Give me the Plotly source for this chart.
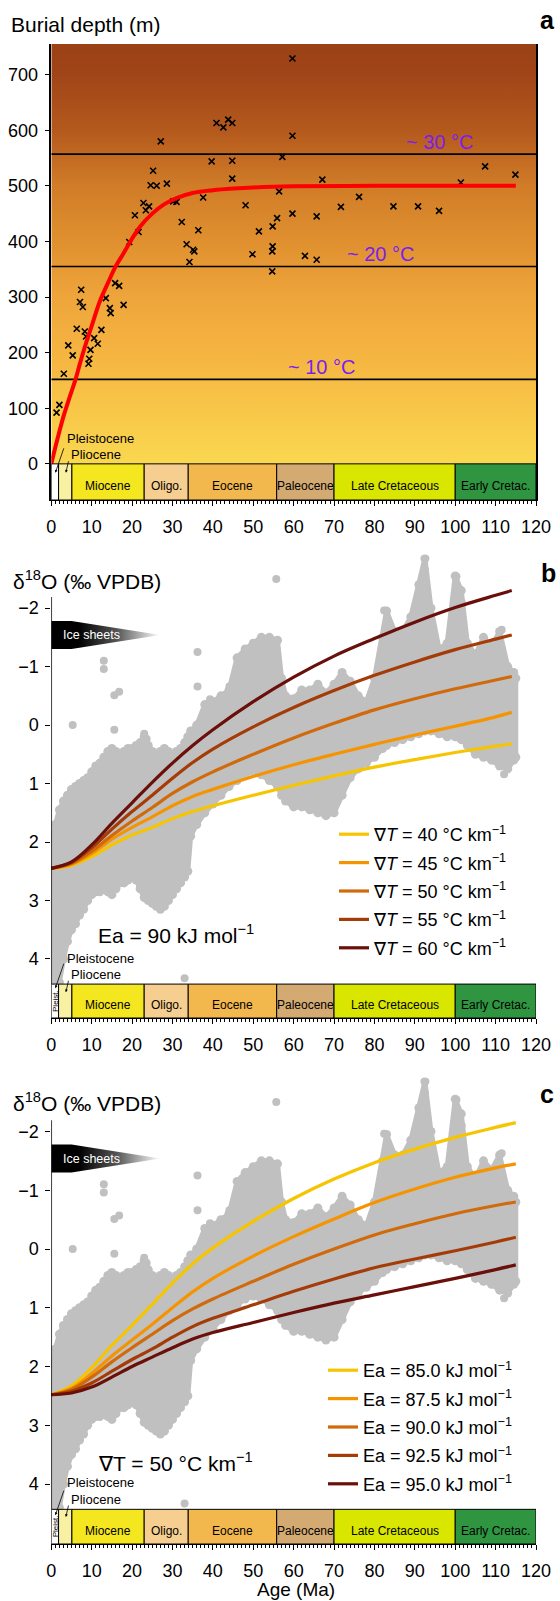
import plotly.graph_objects as go

FONT = "Liberation Sans, Arial, Helvetica, sans-serif"
W, H = 560, 1601
OFF = 0   # body margin removed by the post script below

# ---------------- Panel a data ----------------
burial_age = [27.1, 40.9, 42.6, 43.8, 44.8, 39.7, 44.8, 44.8, 25.2, 24.6, 26.1, 28.6, 22.8, 24.2,
              23.4, 20.7, 21.6, 19.3, 30.2, 31.0, 37.6, 32.3, 36.4, 33.5, 35.1, 48.1, 51.4, 54.8,
              55.9, 56.4, 54.8, 59.7, 59.7, 57.2, 67.1, 101.4, 107.4, 114.9, 59.7, 65.7, 71.7,
              76.2, 84.7, 90.8, 96.0, 34.2, 35.4, 49.8, 54.7, 54.7, 7.4, 7.1, 7.8, 13.5, 15.8,
              16.8, 14.5, 14.7, 17.9, 6.3, 12.4, 8.3, 8.6, 10.6, 11.5, 4.2, 5.3, 9.7, 9.4, 9.2,
              3.1, 2.0, 1.3, 62.8, 65.7]
burial_depth = [580, 613, 605, 619, 613, 544, 545, 513, 527, 501, 500, 504, 469, 463,
                456, 447, 417, 399, 472, 471, 479, 435, 420, 395, 385, 465, 418, 427,
                442, 490, 391, 729, 590, 552, 511, 506, 535, 520, 450, 445, 462,
                480, 463, 463, 455, 363, 382, 377, 346, 382, 313, 291, 282, 298, 325,
                320, 280, 271, 286, 243, 241, 238, 229, 226, 216, 213, 195, 205, 189, 180,
                162, 106, 92, 374, 367]
model_age = [0, 1, 2, 3, 4, 5, 6, 7, 8, 9, 10, 12, 14, 16, 18, 20, 22, 25, 28, 31, 35, 40,
             45, 50, 60, 80, 100, 115]
model_depth = [0, 30, 58, 85, 108, 130, 152, 178, 203, 226, 248, 292, 325, 356, 380, 405, 427,
               450, 467, 478, 487, 492, 495, 497, 499, 500, 500, 500]
isotherm_depth = [152, 355, 557]
isotherm_label = ["~ 10 °C", "~ 20 °C", "~ 30 °C"]

# ---------------- Geological time scale ----------------
stage_name = ["", "", "Miocene", "Oligo.", "Eocene", "Paleocene", "Late Cretaceous", "Early Cretac."]
stage_start = [0, 1.8, 5.1, 23.0, 33.9, 55.8, 70.0, 100.0]
stage_end = [1.8, 5.1, 23.0, 33.9, 55.8, 70.0, 100.0, 120.0]
stage_color = ["#FFFFFF", "#F8F1A4", "#F4E61F", "#F6CE90", "#F2B84E", "#D3AA72", "#D8E600", "#2F9541"]

# ---------------- Benthic d18O compilation (envelope + isolated points) ----------------
env_age = [0.0, 1.0, 2.0, 3.0, 4.0, 5.0, 6.0, 7.0, 8.0, 9.0, 10.0, 11.0, 12.0, 13.0, 14.0, 15.0,
           16.0, 17.0, 18.0, 19.0, 20.0, 21.0, 22.0, 23.0, 24.0, 25.0, 26.0, 27.0, 28.0, 29.0,
           30.0, 31.0, 32.0, 33.0, 33.8, 34.5, 36.0, 38.0, 40.0, 42.0, 44.0, 46.0, 48.0, 50.0,
           52.0, 54.0, 56.0, 57.0, 58.0, 60.0, 62.0, 64.0, 66.0, 68.0, 70.0, 72.0, 74.0, 76.0,
           78.0, 80.0, 82.0, 83.0, 85.0, 87.0, 89.0, 91.0, 92.5, 94.0, 96.0, 98.0, 100.0, 101.5,
           103.0, 105.0, 107.0, 109.0, 111.0, 113.0, 114.5, 115.0]
env_top = [1.95, 1.7, 1.45, 1.3, 1.2, 1.1, 1.05, 1.0, 0.95, 0.9, 0.8, 0.7, 0.65, 0.55, 0.45, 0.4,
           0.45, 0.5, 0.45, 0.4, 0.4, 0.35, 0.3, 0.2, 0.35, 0.45, 0.5, 0.45, 0.4, 0.45,
           0.5, 0.45, 0.4, 0.3, 0.2, 0.1, 0.0, -0.35, -0.4, -0.5, -0.6, -1.15, -1.3, -1.4,
           -1.5, -1.5, -1.45, -0.8, -0.5, -0.45, -0.6, -0.6, -0.7, -0.55, -0.7, -0.9, -0.75, -0.5,
           -0.4, -0.8, -1.5, -1.95, -1.6, -1.6, -1.85, -2.4, -2.85, -2.0, -1.3, -1.4, -2.55, -2.3,
           -1.4, -1.2, -1.5, -1.35, -1.6, -1.0, -0.9, -0.8]
env_bottom = [4.6, 4.6, 4.4, 4.0, 3.7, 3.5, 3.4, 3.25, 3.15, 3.0, 2.9, 2.85, 2.85, 2.8, 2.85, 2.9,
              2.8, 2.7, 2.7, 2.65, 2.6, 2.65, 2.8, 2.95, 3.0, 3.05, 3.1, 3.15, 3.1, 3.0,
              2.9, 2.8, 2.7, 2.6, 2.5, 1.9, 1.7, 1.5, 1.35, 1.2, 1.05, 0.95, 0.85, 0.8,
              0.85, 0.95, 1.05, 1.2, 1.3, 1.4, 1.4, 1.45, 1.5, 1.55, 1.5, 1.2, 0.9, 0.75,
              0.65, 0.55, 0.4, 0.35, 0.3, 0.25, 0.2, 0.15, 0.1, 0.1, 0.15, 0.2, 0.2, 0.25,
              0.35, 0.5, 0.55, 0.6, 0.7, 0.75, 0.6, 0.55]
pt_age = [13.0, 13.0, 15.6, 16.8, 5.3, 15.6, 14.5, 23.0, 23.6, 35.0, 36.2, 36.2, 39.3, 44.1,
          55.7, 92.5, 92.5, 100.3, 100.3, 101.6, 82.4, 111.5, 112.1, 114.8, 33.0]
pt_d18o = [-1.1, -0.96, -0.51, -0.57, 0.0, 0.08, 0.44, 0.15, 0.24, 0.19, -1.25, -0.66, -0.44, -0.66,
           -2.5, -2.85, -2.65, -2.54, -2.37, -2.1, -1.96, -1.63, 0.84, 0.53, 4.33]

# ---------------- Model curves ----------------
curve_age_b = [0, 5, 10, 15, 20, 25, 30, 35, 40, 50, 60, 70, 80, 90, 100, 110, 114]
curves_b = {
    "40": [2.45, 2.4, 2.25, 2.05, 1.88, 1.75, 1.6, 1.48, 1.38, 1.2, 1.03, 0.87, 0.72, 0.59, 0.47, 0.36, 0.32],
    "45": [2.45, 2.38, 2.2, 1.95, 1.75, 1.57, 1.38, 1.22, 1.1, 0.88, 0.68, 0.5, 0.33, 0.17, 0.02, -0.14, -0.22],
    "50": [2.45, 2.37, 2.16, 1.89, 1.64, 1.41, 1.17, 0.97, 0.8, 0.5, 0.22, -0.03, -0.26, -0.45, -0.62, -0.77, -0.83],
    "55": [2.45, 2.35, 2.1, 1.78, 1.48, 1.2, 0.91, 0.64, 0.41, 0.03, -0.3, -0.59, -0.85, -1.08, -1.29, -1.47, -1.54],
    "60": [2.45, 2.34, 2.05, 1.68, 1.33, 0.98, 0.65, 0.35, 0.08, -0.4, -0.82, -1.18, -1.48, -1.76, -2.01, -2.22, -2.3],
}
curve_age_c = [0, 5, 10, 15, 20, 25, 30, 35, 40, 50, 60, 70, 80, 90, 100, 110, 115]
curves_c = {
    "85.0": [2.48, 2.33, 2.02, 1.64, 1.3, 0.94, 0.58, 0.25, -0.02, -0.47, -0.86, -1.19, -1.47, -1.7, -1.9, -2.07, -2.15],
    "87.5": [2.48, 2.37, 2.12, 1.82, 1.55, 1.28, 1.0, 0.73, 0.5, 0.12, -0.21, -0.51, -0.79, -1.02, -1.22, -1.38, -1.45],
    "90.0": [2.48, 2.39, 2.18, 1.92, 1.68, 1.45, 1.22, 1.02, 0.85, 0.55, 0.26, 0.0, -0.24, -0.43, -0.6, -0.74, -0.8],
    "92.5": [2.48, 2.42, 2.28, 2.08, 1.88, 1.7, 1.5, 1.32, 1.18, 0.95, 0.72, 0.51, 0.32, 0.17, 0.03, -0.12, -0.2],
    "95.0": [2.48, 2.45, 2.35, 2.18, 2.0, 1.84, 1.68, 1.53, 1.42, 1.25, 1.08, 0.92, 0.78, 0.64, 0.5, 0.35, 0.27],
}
curve_colors = ["#F6C400", "#F59400", "#D06A0B", "#A53C08", "#6A0F09"]

# ---------------- helpers (window pixels -> paper fraction) ----------------
def py(p):
    return 1 - (p - OFF) / H

def px(p):
    return (p - OFF) / W

XDOM = [px(51.3), px(536)]
GRAY = "#C0C0C0"

fig = go.Figure()

# ===== Panel a =====
fig.add_trace(go.Scatter(
    x=[0, 120, 120, 0, 0], y=[0, 0, 755, 755, 0], fill="toself", mode="lines",
    line=dict(width=0, color="rgba(0,0,0,0)"),
    fillgradient=dict(type="vertical", start=0, stop=755,
                      colorscale=[[0, "#FAD850"], [0.132, "#F8C648"], [0.265, "#F5B441"],
                                  [0.397, "#EEA53B"], [0.53, "#E0902F"], [0.662, "#D07C28"],
                                  [0.795, "#B4591D"], [0.927, "#A04518"], [1, "#9A4116"]]),
    showlegend=False, hoverinfo="skip", xaxis="x", yaxis="y"))
for d in isotherm_depth:
    fig.add_trace(go.Scatter(x=[0, 120], y=[d, d], mode="lines", line=dict(color="black", width=1.6),
                             showlegend=False, hoverinfo="skip", xaxis="x", yaxis="y"))
fig.add_trace(go.Scatter(x=burial_age, y=burial_depth, mode="markers",
                         marker=dict(symbol="x-thin", size=6, line=dict(width=1.6, color="black"), color="black"),
                         showlegend=False, xaxis="x", yaxis="y"))
fig.add_trace(go.Scatter(x=model_age, y=model_depth, mode="lines", line=dict(color="#FF0000", width=4, shape="spline"),
                         showlegend=False, xaxis="x", yaxis="y"))

# ===== Panels b and c =====
def add_d18o_panel(xa, ya, curve_age, curves, names, legend):
    fig.add_trace(go.Scatter(
        x=env_age + env_age[::-1], y=env_top + env_bottom[::-1], fill="toself", mode="lines",
        fillcolor=GRAY, line=dict(color=GRAY, width=5), showlegend=False, hoverinfo="skip",
        xaxis=xa, yaxis=ya))
    # rounded dotted edges of the compilation
    fig.add_trace(go.Scatter(x=env_age + env_age, y=env_top + env_bottom, mode="markers",
                             marker=dict(color=GRAY, size=9), showlegend=False, hoverinfo="skip",
                             xaxis=xa, yaxis=ya))
    fig.add_trace(go.Scatter(x=pt_age, y=pt_d18o, mode="markers", marker=dict(color=GRAY, size=8),
                             showlegend=False, cliponaxis=False, xaxis=xa, yaxis=ya))
    # Ice sheets arrow
    fig.add_trace(go.Scatter(
        x=[0, 5, 27, 5, 0, 0], y=[-1.78, -1.78, -1.54, -1.30, -1.30, -1.78], fill="toself", mode="lines",
        line=dict(width=0, color="rgba(0,0,0,0)"),
        fillgradient=dict(type="horizontal", start=0, stop=27,
                          colorscale=[[0, "#000000"], [0.25, "#000000"], [0.6, "#555555"], [1, "#FFFFFF"]]),
        showlegend=False, hoverinfo="skip", xaxis=xa, yaxis=ya))
    for i, ((key, vals), col, nm) in enumerate(zip(curves.items(), curve_colors, names)):
        fig.add_trace(go.Scatter(x=curve_age, y=vals, mode="lines", name=nm,
                                 line=dict(color=col, width=3.2, shape="spline"),
                                 legend=legend, legendgroup=legend + str(i), xaxis=xa, yaxis=ya))

names_b = ["∇<i>T</i> = %s °C km<sup>−1</sup>" % k for k in curves_b]
names_c = ["Ea = %s kJ mol<sup>−1</sup>" % k for k in curves_c]
add_d18o_panel("x2", "y2", curve_age_b, curves_b, names_b, "legend")
add_d18o_panel("x3", "y3", curve_age_c, curves_c, names_c, "legend2")

# ===== shapes: time scale bars, axis lines =====
shapes = []
annotations = []
panels = [("x", "y", -65, 0), ("x2", "y2", 4.43, 5.01), ("x3", "y3", 4.43, 5.02)]
for xa, ya, y0, y1 in panels:
    for s, e, c, n in zip(stage_start, stage_end, stage_color, stage_name):
        shapes.append(dict(type="rect", xref=xa, yref=ya, x0=s, x1=e, y0=y0, y1=y1,
                           fillcolor=c, line=dict(color="black", width=1), layer="above"))
        if n:
            annotations.append(dict(xref=xa, yref=ya, x=(s + e) / 2, y=(y0 + y1) / 2, text=n,
                                    showarrow=False, yshift=-4, xanchor="center", yanchor="middle",
                                    font=dict(family=FONT, size=12, color="black")))

for xa, ya in [("x2", "y2"), ("x3", "y3")]:
    shapes.append(dict(type="line", xref=xa, yref=ya, x0=0, x1=0, y0=-2.19, y1=4.43,
                       line=dict(color="black", width=1.5), layer="above"))
    annotations.append(dict(xref=xa, yref=ya, x=0.9, y=4.72, text="Pleist.", textangle=-90,
                            showarrow=False, font=dict(family=FONT, size=8, color="black")))
    annotations.append(dict(xref=xa, yref=ya, x=2.5, y=-1.54, text="Ice sheets", xanchor="left",
                            yanchor="middle", showarrow=False,
                            font=dict(family=FONT, size=12.5, color="white")))

# Pleistocene / Pliocene labels and arrows
label_pos = {"x": (45, 17, -16, -16), "x2": (4.0, 4.26, 4.5, 4.57), "x3": (3.98, 4.26, 4.53, 4.56)}
for xa, ya in [("x", "y"), ("x2", "y2"), ("x3", "y3")]:
    yp, ypl, tip1, tip2 = label_pos[xa]
    annotations.append(dict(xref=xa, yref=ya, x=3.5, y=yp, text="Pleistocene", xanchor="left",
                            yanchor="middle", showarrow=False, font=dict(family=FONT, size=13, color="black")))
    annotations.append(dict(xref=xa, yref=ya, x=4.5, y=ypl, text="Pliocene", xanchor="left",
                            yanchor="middle", showarrow=False, font=dict(family=FONT, size=13, color="black")))
    annotations.append(dict(xref=xa, yref=ya, x=1.0, y=tip1, text="", showarrow=True, ax=9, ay=-26,
                            arrowhead=2, arrowsize=0.7, arrowwidth=0.8, arrowcolor="black"))
    annotations.append(dict(xref=xa, yref=ya, x=3.6, y=tip2, text="", showarrow=True, ax=3, ay=-13,
                            arrowhead=2, arrowsize=0.7, arrowwidth=0.8, arrowcolor="black"))

# isotherm labels
iso_label_age = [67, 81.5, 96.2]
for a_, d, t in zip(iso_label_age, isotherm_depth, isotherm_label):
    annotations.append(dict(xref="x", yref="y", x=a_, y=d, yanchor="bottom", text=t, showarrow=False,
                            yshift=-1, font=dict(family=FONT, size=20, color="#7A1EF0")))

# in-panel parameter labels
annotations.append(dict(xref="x2", yref="y2", x=11, y=3.57, xanchor="left", yanchor="middle",
                        text="Ea = 90 kJ mol<sup>−1</sup>",
                        showarrow=False, font=dict(family=FONT, size=21, color="black")))
annotations.append(dict(xref="x3", yref="y3", x=11, y=3.62, xanchor="left", yanchor="middle",
                        text="∇T = 50 °C km<sup>−1</sup>",
                        showarrow=False, font=dict(family=FONT, size=21, color="black")))

# titles and panel letters
def paper_text(x, y, text, size, xanchor="left", bold=False):
    return dict(xref="paper", yref="paper", x=px(x), y=py(y), xanchor=xanchor, yanchor="middle",
                text=("<b>%s</b>" % text) if bold else text, showarrow=False,
                font=dict(family=FONT, size=size, color="black"))

annotations += [
    paper_text(9, 25, "Burial depth (m)", 21),
    paper_text(11, 580, "δ<sup>18</sup>O (‰ VPDB)", 21),
    paper_text(11, 1102, "δ<sup>18</sup>O (‰ VPDB)", 21),
    paper_text(296, 1589, "Age (Ma)", 19, xanchor="center"),
    paper_text(547, 20, "a", 25, xanchor="center", bold=True),
    paper_text(548, 573, "b", 25, xanchor="center", bold=True),
    paper_text(547, 1094, "c", 25, xanchor="center", bold=True),
]

# ===== axes =====
tickfont = dict(family=FONT, size=18, color="black")

def xaxis_cfg(anchor):
    return dict(domain=XDOM, range=[0, 120], anchor=anchor, tickvals=list(range(0, 121, 10)),
                ticks="outside", ticklen=5, tickwidth=1, tickcolor="black", showline=True,
                linecolor="black", linewidth=1, showgrid=False, zeroline=False, tickfont=tickfont,
                ticklabelstandoff=5,
                minor=dict(dtick=1, ticks="outside", ticklen=2.5, tickwidth=0.8, tickcolor="black"))

def yaxis_cfg(anchor, rng, dom, vals, showline):
    return dict(domain=dom, range=rng, anchor=anchor, tickvals=vals, ticks="outside", ticklen=5,
                tickwidth=1, tickcolor="black", showline=showline, linecolor="black", linewidth=1.5,
                mirror=showline, showgrid=False, zeroline=False, tickfont=tickfont, ticklabelstandoff=3)

fig.update_layout(
    template="none",
    width=W, height=H, margin=dict(l=0, r=0, t=0, b=0),
    paper_bgcolor="white", plot_bgcolor="rgba(0,0,0,0)",
    font=dict(family=FONT, color="black"),
    xaxis=xaxis_cfg("y"),
    yaxis=yaxis_cfg("x", [-65, 755], [py(500), py(44)], list(range(0, 701, 100)), True),
    xaxis2=xaxis_cfg("y2"),
    yaxis2=yaxis_cfg("x2", [5.01, -2.9], [py(1018), py(555.5)], [-2, -1, 0, 1, 2, 3, 4], False),
    xaxis3=xaxis_cfg("y3"),
    yaxis3=yaxis_cfg("x3", [5.02, -2.9], [py(1544), py(1078.6)], [-2, -1, 0, 1, 2, 3, 4], False),
    shapes=shapes, annotations=annotations,
    legend=dict(x=px(334), y=py(816), xanchor="left", yanchor="top", bgcolor="rgba(0,0,0,0)",
                font=dict(family=FONT, size=18, color="black"), itemwidth=30, tracegroupgap=2),
    legend2=dict(x=px(323), y=py(1352), xanchor="left", yanchor="top", bgcolor="rgba(0,0,0,0)",
                 font=dict(family=FONT, size=18, color="black"), itemwidth=30, tracegroupgap=2),
    showlegend=True,
)

fig.write_html("out.html", config={"displayModeBar": False},
               post_script="document.body.style.margin='0';document.body.style.overflow='hidden';")
